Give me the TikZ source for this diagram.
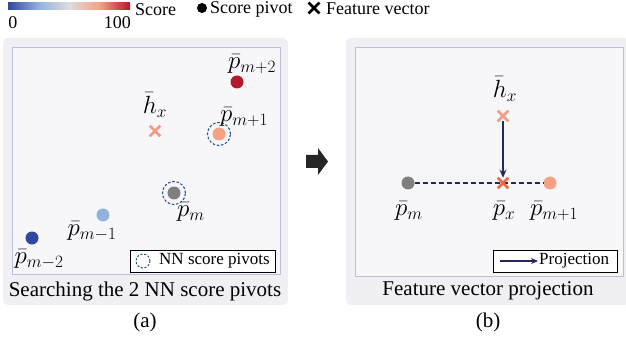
\documentclass[tikz,border=0pt]{standalone}
\usepackage{fontspec}
\setmainfont{Liberation Serif}
\usetikzlibrary{arrows.meta,shapes.misc}
\definecolor{panelbg}{HTML}{EFEFF4}
\definecolor{innerbg}{HTML}{F7F7FA}
\definecolor{innerbd}{HTML}{B9BFDD}
\definecolor{navy}{HTML}{23285E}
\definecolor{nnblue}{HTML}{1F4A8A}
\definecolor{cdblue}{HTML}{30479E}
\definecolor{clblue}{HTML}{92B2DE}
\definecolor{cmid}{HTML}{DDDDDD}
\definecolor{csalmon}{HTML}{F4A184}
\definecolor{cred}{HTML}{B3192B}
\definecolor{cgray}{HTML}{7F7F7F}
\definecolor{cpx}{HTML}{EC6944}
\definecolor{chx}{HTML}{F29A86}
\tikzset{
  panel/.style={fill=panelbg, draw=none, rounded corners=5pt},
  inner/.style={fill=innerbg, draw=innerbd, line width=0.8pt},
  dot/.style={circle, inner sep=0pt, minimum size=13pt, draw=none},
  nnring/.style={circle, draw=nnblue, dashed, dash pattern=on 2.5pt off 1.8pt, line width=1pt, inner sep=0pt, minimum size=23pt},
  xmark/.style={cross out, draw=#1, line width=2.6pt, inner sep=0pt, minimum size=8pt},
  lab/.style={inner sep=0pt, font=\fontsize{23}{26}\selectfont},
  captext/.style={inner sep=0pt, font=\fontsize{21}{24}\selectfont},
  leg/.style={inner sep=0pt, font=\fontsize{18}{21}\selectfont},
  sleg/.style={inner sep=0pt, font=\fontsize{17}{20}\selectfont},
  legbox/.style={draw=black, line width=0.9pt, fill=white},
}
\begin{document}
\begin{tikzpicture}[x=1pt,y=-1pt]
\useasboundingbox (0,0) rectangle (626,339);
% ---------- top legend ----------
\shade[left color=cdblue, right color=cmid, middle color=clblue] (8,3) rectangle (69,10);
\shade[left color=cmid, right color=cred, middle color=csalmon] (69,3) rectangle (130,10);
\node[leg, anchor=west] (score) at (135,10) {Score};
\node[leg] (zero) at (13,23) {0};
\node[leg, anchor=east] (hundred) at (131,23) {100};
\node[dot, fill=black, minimum size=10pt] (legdot) at (202,8) {};
\node[leg, anchor=west] (legdott) at (210,9) {Score pivot};
\node[xmark=black, minimum size=8pt, line width=2.8pt] (legx) at (314,8) {};
\node[leg, anchor=west] (legxt) at (326,9) {Feature vector};
% ---------- panel (a) ----------
\fill[panel] (3,38) rectangle (288,305);
\draw[inner] (12,47) rectangle (280,274);
\node[dot, fill=cred] (pm2) at (237,82) {};
\node[lab] (pm2l) at (252,64) {$\bar{p}_{m+2}$};
\node[xmark=chx] (hxa) at (155,131) {};
\node[lab] (hxal) at (155,105) {$\bar{h}_{x}$};
\node[dot, fill=csalmon] (pm1) at (219,134) {};
\node[nnring] (pm1r) at (219,134) {};
\node[lab] (pm1l) at (244,117) {$\bar{p}_{m+1}$};
\node[dot, fill=cgray] (pm) at (174,193) {};
\node[nnring] (pmr) at (174,193) {};
\node[lab] (pml) at (191,212) {$\bar{p}_{m}$};
\node[dot, fill=clblue] (pmm1) at (103,215) {};
\node[lab] (pmm1l) at (92,231) {$\bar{p}_{m-1}$};
\node[dot, fill=cdblue] (pmm2) at (32,238) {};
\node[lab] (pmm2l) at (39,259) {$\bar{p}_{m-2}$};
\draw[legbox] (130,250) rectangle (275,272);
\node[circle, draw=nnblue, dashed, dash pattern=on 2.2pt off 1.6pt, line width=0.9pt, inner sep=0pt, minimum size=14pt] (legnn) at (143,261) {};
\node[sleg, anchor=west] (legnnt) at (159,261) {NN score pivots};
\node[captext] (capa) at (145,291) {Searching the 2 NN score pivots};
\node[captext] (suba) at (145,322) {(a)};
% ---------- big arrow ----------
\fill[black!85] (306,155) -- (318,155) -- (318,148) -- (328,161.5) -- (318,175) -- (318,168) -- (306,168) -- cycle;
% ---------- panel (b) ----------
\fill[panel] (346,38) rectangle (630,305);
\draw[inner] (355,47) rectangle (623,276);
\node[dot, fill=cgray] (bpm) at (408,183) {};
\node[dot, fill=csalmon] (bpm1) at (550,183) {};
\draw[navy, line width=1.3pt, dash pattern=on 5pt off 3pt] (bpm) -- (bpm1);
\node[xmark=cpx] (bpx) at (503,183) {};
\node[xmark=chx] (bhx) at (503,116) {};
\draw[navy, line width=1.5pt, -{Stealth[length=8pt,width=7pt]}] (bhx) -- (bpx);
\node[lab] (bhxl) at (505,89) {$\bar{h}_{x}$};
\node[lab] (bpml) at (409,211) {$\bar{p}_{m}$};
\node[lab] (bpxl) at (504,211) {$\bar{p}_{x}$};
\node[lab] (bpm1l) at (554,211) {$\bar{p}_{m+1}$};
\draw[legbox] (493,250) rectangle (617,272);
\coordinate (la) at (500,261);
\coordinate (lb) at (538,261);
\draw[navy, line width=1.5pt, -{Stealth[length=7pt,width=6pt]}] (la) -- (lb);
\node[sleg, anchor=west] (legpt) at (539,261) {Projection};
\node[captext] (capb) at (488,291) {Feature vector projection};
\node[captext] (subb) at (488,322) {(b)};
\end{tikzpicture}
\end{document}
